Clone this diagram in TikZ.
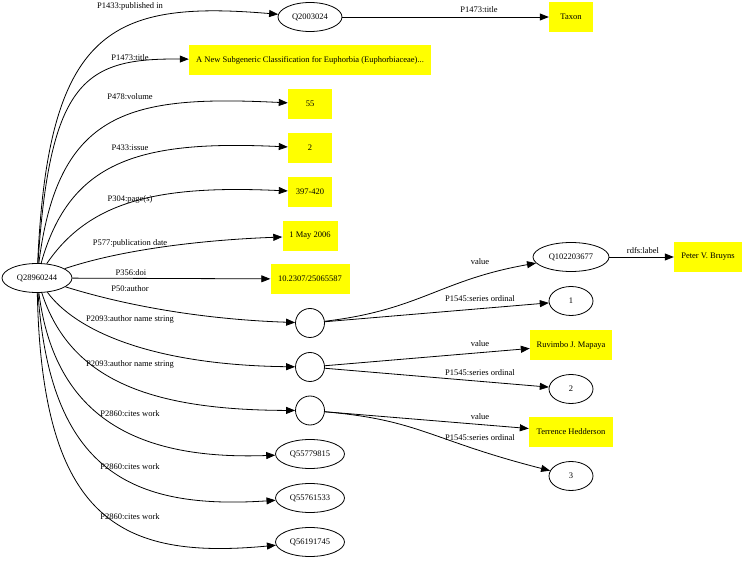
\documentclass[tikz,border=0pt]{standalone}
\usepackage{fontspec}
\setmainfont{Liberation Serif}
\usetikzlibrary{arrows.meta,shapes.geometric}
\definecolor{litfill}{RGB}{255,255,0}
\tikzset{
  ent/.style   = {ellipse,draw,line width=0.8pt,minimum height=29pt,
                  inner sep=0pt,font=\fontsize{8.5}{10}\selectfont},
  blank/.style = {circle,draw,line width=0.8pt,minimum size=29pt,inner sep=0pt},
  lit/.style   = {rectangle,fill=litfill,minimum height=30pt,inner sep=0pt,
                  font=\fontsize{8.5}{10}\selectfont},
  elab/.style  = {font=\fontsize{8.5}{10}\selectfont,inner sep=0pt},
  edge/.style  = {-{Triangle[length=9pt,width=7pt]},line width=0.8pt},
}

\begin{document}
\begin{tikzpicture}[x=1pt,y=-1pt]
  \useasboundingbox (0,0) rectangle (745,561);
  % subject and its direct values
  \node[ent,minimum width=70pt] (paper) at (37,278) {Q28960244};
  \node[ent,minimum width=64pt] (journal) at (310,17) {Q2003024};
  \node[lit,minimum width=44pt] (jtitle) at (571,17) {Taxon};
  \node[lit,minimum width=242pt] (title) at (310,60.5) {A New Subgeneric Classification for Euphorbia (Euphorbiaceae)...};
  \node[lit,minimum width=44pt] (vol) at (310,104) {55};
  \node[lit,minimum width=44pt] (iss) at (310,148) {2};
  \node[lit,minimum width=44pt] (pages) at (310,192) {397-420};
  \node[lit,minimum width=55pt] (date) at (310,236) {1 May 2006};
  \node[lit,minimum width=79pt] (doi) at (310,279) {10.2307/25065587};
  \node[blank] (au1) at (310,323) {};
  \node[blank] (au2) at (310,367) {};
  \node[blank] (au3) at (310,410.5) {};
  \node[ent,minimum width=69pt] (cw1) at (310,454) {Q55779815};
  \node[ent,minimum width=69pt] (cw2) at (310,498) {Q55761533};
  \node[ent,minimum width=69pt] (cw3) at (310,542) {Q56191745};
  % author statements
  \node[ent,minimum width=76pt] (bruyns) at (571,257) {Q102203677};
  \node[lit,minimum width=68pt] (bname) at (708,257) {Peter V. Bruyns};
  \node[ent,minimum width=44pt] (ord1) at (571,301) {1};
  \node[lit,minimum width=82pt] (mapaya) at (571,345) {Ruvimbo J. Mapaya};
  \node[ent,minimum width=44pt] (ord2) at (571,389) {2};
  \node[lit,minimum width=84pt] (hedd) at (571,432) {Terrence Hedderson};
  \node[ent,minimum width=44pt] (ord3) at (571,476) {3};

  \draw[edge] (paper) .. controls (48,30) and (110,0) .. (journal);
  \draw[edge] (paper) .. controls (50,80) and (85,58) .. (title);
  \draw[edge] (paper) .. controls (58,110) and (130,95) .. (vol);
  \draw[edge] (paper) .. controls (70,160) and (140,140) .. (iss);
  \draw[edge] (paper) .. controls (90,200) and (160,185) .. (pages);
  \draw[edge] (paper) .. controls (120,250) and (200,240) .. (date);
  \draw[edge] (paper) -- (doi);
  \draw[edge] (paper) .. controls (140,310) and (220,320) .. (au1);
  \draw[edge] (paper) .. controls (75,330) and (150,365) .. (au2);
  \draw[edge] (paper) .. controls (70,380) and (150,410) .. (au3);
  \draw[edge] (paper) .. controls (55,420) and (140,460) .. (cw1);
  \draw[edge] (paper) .. controls (50,470) and (130,510) .. (cw2);
  \draw[edge] (paper) .. controls (42,520) and (120,560) .. (cw3);
  \draw[edge] (journal) -- (jtitle);
  \draw[edge] (bruyns) -- (bname);
  \draw[edge] (au1) .. controls (420,310) and (440,280) .. (bruyns);
  \draw[edge] (au1) -- (ord1);
  \draw[edge] (au2) -- (mapaya);
  \draw[edge] (au2) -- (ord2);
  \draw[edge] (au3) -- (hedd);
  \draw[edge] (au3) .. controls (420,420) and (430,440) .. (ord3);

  \foreach \x/\y/\txt [count=\i] in {130/6/P1433:published in, 130/58/P1473:title,
      130/97/P478:volume, 130/148/P433:issue, 130/199/P304:page(s),
      130/243/P577:publication date, 131/273/P356:doi, 130/289/P50:author,
      130/319/P2093:author name string, 130/364/P2093:author name string,
      130/414/P2860:cites work, 130/467/P2860:cites work,
      130/517/P2860:cites work, 479/10/P1473:title, 643/251/rdfs:label,
      480/262/value, 480/299/P1545:series ordinal, 480/344/value,
      480/373/P1545:series ordinal, 480/417/value,
      480/438/P1545:series ordinal}
    \node[elab] (lab\i) at (\x,\y) {\txt};
\end{tikzpicture}
\end{document}
